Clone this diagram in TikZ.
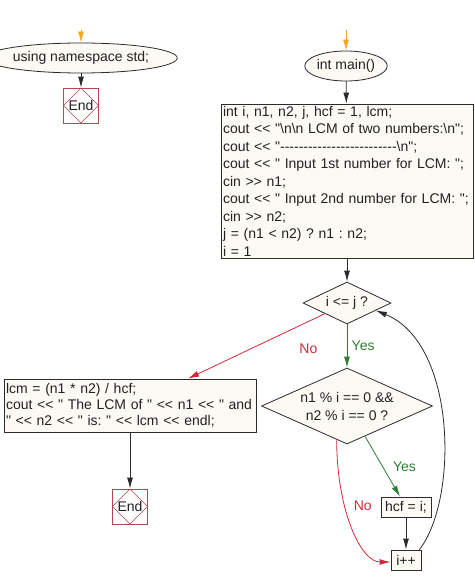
\documentclass[tikz,border=0pt]{standalone}
\usepackage{fontspec}
\newfontfamily\lsans{Liberation Sans}
\usetikzlibrary{shapes.geometric,arrows.meta,calc}
\definecolor{fillc}{HTML}{FDFAF5}
\definecolor{linec}{HTML}{2B2B2B}
\definecolor{textc}{HTML}{222222}
\definecolor{orangec}{HTML}{F5A623}
\definecolor{greenc}{HTML}{2E7D32}
\definecolor{redc}{HTML}{D3283C}
\definecolor{endc}{HTML}{B5464F}
\def\dd{-\kern0pt}
\frenchspacing
\begin{document}
\begin{tikzpicture}[x=1pt,y=-1pt,
  font=\lsans\frenchspacing\fontsize{14}{17.5}\selectfont, text=textc,
  box/.style={draw=linec, fill=fillc, line width=0.8pt, inner sep=0pt},
  term/.style={ellipse, draw=linec, fill=fillc, line width=0.8pt, inner sep=0pt},
  dec/.style={diamond, draw=linec, fill=fillc, line width=0.8pt, inner sep=0pt},
  endbox/.style={draw=endc, fill=white, line width=0.7pt, minimum size=35pt, inner sep=0pt,
    path picture={\draw[endc, line width=0.6pt] (path picture bounding box.north) -- (path picture bounding box.east) -- (path picture bounding box.south) -- (path picture bounding box.west) -- cycle;}},
  arr/.style={-{Latex[length=11pt,width=6pt]}, line width=0.8pt, draw=linec},
  lbl/.style={font=\lsans\fontsize{14}{16}\selectfont}
]
\useasboundingbox (0,0) rectangle (474,585);

% left column
\coordinate (s1) at (81,30);
\node[term, minimum width=154pt, minimum height=30pt] (ns) at (81,58) {using namespace std;};
\node[endbox] (end1) at (81,105.5) {End};

% right column
\coordinate (s2) at (346,30);
\node[term, minimum width=78pt, minimum height=30pt] (main) at (346,66) {int main()};
\node[box, minimum width=252pt, minimum height=154pt, text width=248pt, align=left] (init) at (347,181)
{int i, n1, n2, j, hcf = 1, lcm;\\
cout << "\textbackslash n\textbackslash n LCM of two numbers:\textbackslash n";\\
cout << "\dd\dd\dd\dd\dd\dd\dd\dd\dd\dd\dd\dd\dd\dd\dd\dd\dd\dd\dd\dd\dd\dd\dd\dd\dd\textbackslash n";\\
cout << " Input 1st number for LCM: ";\\
cin >> n1;\\
cout << " Input 2nd number for LCM: ";\\
cin >> n2;\\
j = (n1 < n2) ? n1 : n2;\\
i = 1};

\node[dec, aspect=2.1, minimum width=88pt, minimum height=42pt] (d1) at (347,303) {i <= j ?};
\node[dec, aspect=2.25, minimum width=171pt, minimum height=76pt, align=center,
  font=\lsans\fontsize{14}{18}\selectfont] (d2) at (347,406) {n1 \% i == 0 \&\&\\n2 \% i == 0 ?};

\node[box, minimum width=252pt, minimum height=53pt, text width=248pt, align=left,
  font=\lsans\fontsize{14}{16}\selectfont] (lbox) at (130,405.5)
{lcm = (n1 * n2) / hcf;\\
cout << " The LCM of " << n1 << " and\\
" << n2 << " is: " << lcm << endl;};
\node[endbox] (end2) at (130,506.5) {End};

\node[box, minimum width=50pt, minimum height=20pt] (hcf) at (406,507) {hcf = i;};
\node[box, minimum width=30pt, minimum height=20pt] (ipp) at (406,560) {i++};

% connectors
\draw[arr, draw=orangec] (s1) -- (ns);
\draw[arr, draw=orangec] (s2) -- (main);
\draw[arr] (ns) -- (end1);
\draw[arr] (main) -- (init);
\draw[arr] (init) -- (d1);
\draw[arr, draw=greenc] (d1) -- node[lbl, right=1pt, text=greenc] {Yes} (d2);
\draw[arr, draw=redc] (d1.south west) -- node[lbl, pos=0.12, yshift=-27pt, text=redc] {No} ([xshift=58pt]lbox.north);
\draw[arr] (lbox) -- (end2);
\draw[arr, draw=greenc] ($(d2.south)!0.21!(d2.east)$) -- node[lbl, midway, xshift=22pt, text=greenc] {Yes} ([xshift=-6pt]hcf.north);
\draw[arr] (hcf) -- (ipp);
\draw[arr, draw=redc] ($(d2.south)!0.12!(d2.west)$) .. controls +(0,70) and +(-30,0) .. node[lbl, pos=0.35, xshift=18pt, text=redc] {No} ([yshift=-2pt]ipp.west);
\draw[arr] ([xshift=-2pt]ipp.north east) .. controls +(39,-50) and +(81,33) .. ($(d1.south)!0.65!(d1.east)$);
\end{tikzpicture}
\end{document}
